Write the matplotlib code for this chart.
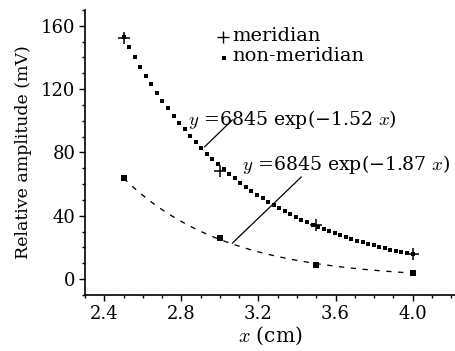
import numpy as np
import matplotlib
matplotlib.use("Agg")
import matplotlib.pyplot as plt
from matplotlib.ticker import MultipleLocator

plt.rcParams['font.family'] = ['DejaVu Serif']
plt.rcParams['mathtext.fontset'] = 'cm'

x_pos = [2.5, 3.0, 3.5, 4.0]
meridian = [152, 68, 34, 16]
non_meridian = [64, 26, 9, 4]
fit_a = 6845
fit_b_mer = 1.52
fit_b_non = 1.87
xticks = [2.4, 2.8, 3.2, 3.6, 4.0]
yticks = [0, 40, 80, 120, 160]

fig = plt.figure(figsize=(4.56, 3.51), dpi=100)
ax = fig.add_axes([85/456, 1-295/351, (455-85)/456, (295-10)/351])

# fitted curves
xf_dots = np.linspace(x_pos[0], x_pos[-1], 53)
ax.plot(xf_dots, fit_a*np.exp(-fit_b_mer*xf_dots), linestyle='none', marker='s',
        ms=2.7, mew=0, color='black')
xf = np.linspace(x_pos[0], x_pos[-1], 200)
ax.plot(xf, fit_a*np.exp(-fit_b_non*xf), color='black', lw=0.95, linestyle=(0, (4, 5)))

# data points
ax.plot(x_pos, meridian, linestyle='none', marker='+', ms=9, mew=1.1, color='black')
ax.plot(x_pos, non_meridian, linestyle='none', marker='s', ms=3.8, mew=0, color='black')

ax.set_xlim(2.3, 4.22)
ax.set_ylim(-10, 170)
ax.set_xticks(xticks)
ax.set_xticklabels([f"{v:.1f}" for v in xticks])
ax.set_yticks(yticks)
ax.xaxis.set_minor_locator(MultipleLocator(0.1))
ax.yaxis.set_minor_locator(MultipleLocator(10))
ax.tick_params(which='major', length=4.5, width=1, labelsize=13, direction='out', pad=2.5)
ax.tick_params(which='minor', length=2.5, width=1, direction='out')
for s in ['top', 'right']:
    ax.spines[s].set_visible(False)
for s in ['left', 'bottom']:
    ax.spines[s].set_linewidth(1.2)

ax.set_ylabel('Relative amplitude (mV)', fontsize=12.5, labelpad=6)
ax.set_xlabel('$x$ (cm)', fontsize=14.5, labelpad=1.5)

# legend
ax.plot([3.018], [152.8], marker='+', ms=8, mew=1.0, color='black', linestyle='none')
ax.text(3.062, 150.6, 'meridian', fontsize=14, va='baseline', ha='left')
ax.plot([3.020], [139.6], marker='s', ms=3.4, mew=0, color='black', linestyle='none')
ax.text(3.062, 137.5, 'non-meridian', fontsize=14, va='baseline', ha='left')

# annotations
ax.text(2.835, 97.5, r'$y$ =6845 exp(−1.52 $x$)', fontsize=13.6, va='baseline', ha='left')
ax.annotate('', xy=(2.92, 83.5), xytext=(3.065, 100.6),
            arrowprops=dict(arrowstyle='-', color='black', lw=0.9, shrinkA=0, shrinkB=0))
ax.text(3.115, 69, r'$y$ =6845 exp(−1.87 $x$)', fontsize=13.6, va='baseline', ha='left')
ax.annotate('', xy=(3.065, 22.8), xytext=(3.423, 64.6),
            arrowprops=dict(arrowstyle='-', color='black', lw=0.9, shrinkA=0, shrinkB=0))

fig.savefig('out.png', dpi=100)
